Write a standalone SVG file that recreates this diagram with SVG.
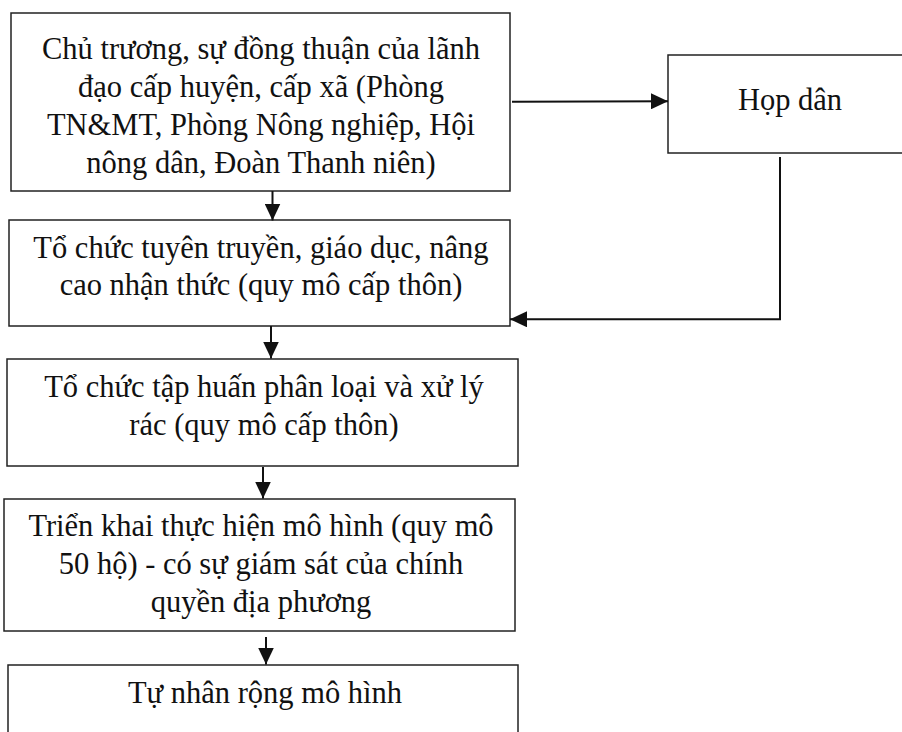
<svg xmlns="http://www.w3.org/2000/svg" width="902" height="732" viewBox="0 0 902 732">
<style>
.box{fill:#fff;stroke:#222;stroke-width:1.5}
.t{font-family:"Liberation Serif","Times New Roman",serif;font-size:30.5px;fill:#111;text-anchor:middle}
.c{fill:none;stroke:#111;stroke-width:2}
</style>
<defs>
<marker id="ah" markerWidth="17" markerHeight="16" refX="17" refY="8" orient="auto" markerUnits="userSpaceOnUse">
<path d="M0,0 L17,8 L0,16 Z" fill="#111"/>
</marker>
</defs>
<rect width="902" height="732" fill="#fff"/>
<g id="n1">
<rect class="box" x="11" y="13" width="499" height="178"/>
<text class="t" x="261" y="59">Chủ trương, sự đồng thuận của lãnh</text>
<text class="t" x="261" y="97">đạo cấp huyện, cấp xã (Phòng</text>
<text class="t" x="261" y="135">TN&amp;MT, Phòng Nông nghiệp, Hội</text>
<text class="t" x="261" y="173">nông dân, Đoàn Thanh niên)</text>
</g>
<g id="n_hop">
<rect class="box" x="668" y="55" width="250" height="98"/>
<text class="t" x="790" y="110">Họp dân</text>
</g>
<g id="n2">
<rect class="box" x="9" y="220" width="501" height="106"/>
<text class="t" x="261" y="258">Tổ chức tuyên truyền, giáo dục, nâng</text>
<text class="t" x="261" y="295">cao nhận thức (quy mô cấp thôn)</text>
</g>
<g id="n3">
<rect class="box" x="7" y="359" width="511" height="107"/>
<text class="t" x="264" y="397">Tổ chức tập huấn phân loại và xử lý</text>
<text class="t" x="264" y="435">rác (quy mô cấp thôn)</text>
</g>
<g id="n4">
<rect class="box" x="4" y="499" width="511" height="132"/>
<text class="t" x="261" y="536">Triển khai thực hiện mô hình (quy mô</text>
<text class="t" x="261" y="574">50 hộ) - có sự giám sát của chính</text>
<text class="t" x="261" y="612">quyền địa phương</text>
</g>
<g id="n5">
<rect class="box" x="8" y="665" width="510" height="80"/>
<text class="t" x="265" y="703">Tự nhân rộng mô hình</text>
</g>
<g id="connectors">
<path class="c" d="M512,101.7 L668,101.2" marker-end="url(#ah)"/>
<path class="c" d="M780,157 L780,319.3 L510,319.3" marker-end="url(#ah)"/>
<path class="c" d="M272.5,191 L272.5,220.5" marker-end="url(#ah)"/>
<path class="c" d="M271,326 L271,358.5" marker-end="url(#ah)"/>
<path class="c" d="M263,467 L263,498.5" marker-end="url(#ah)"/>
<path class="c" d="M266,637 L266,664.5" marker-end="url(#ah)"/>
</g>
</svg>
